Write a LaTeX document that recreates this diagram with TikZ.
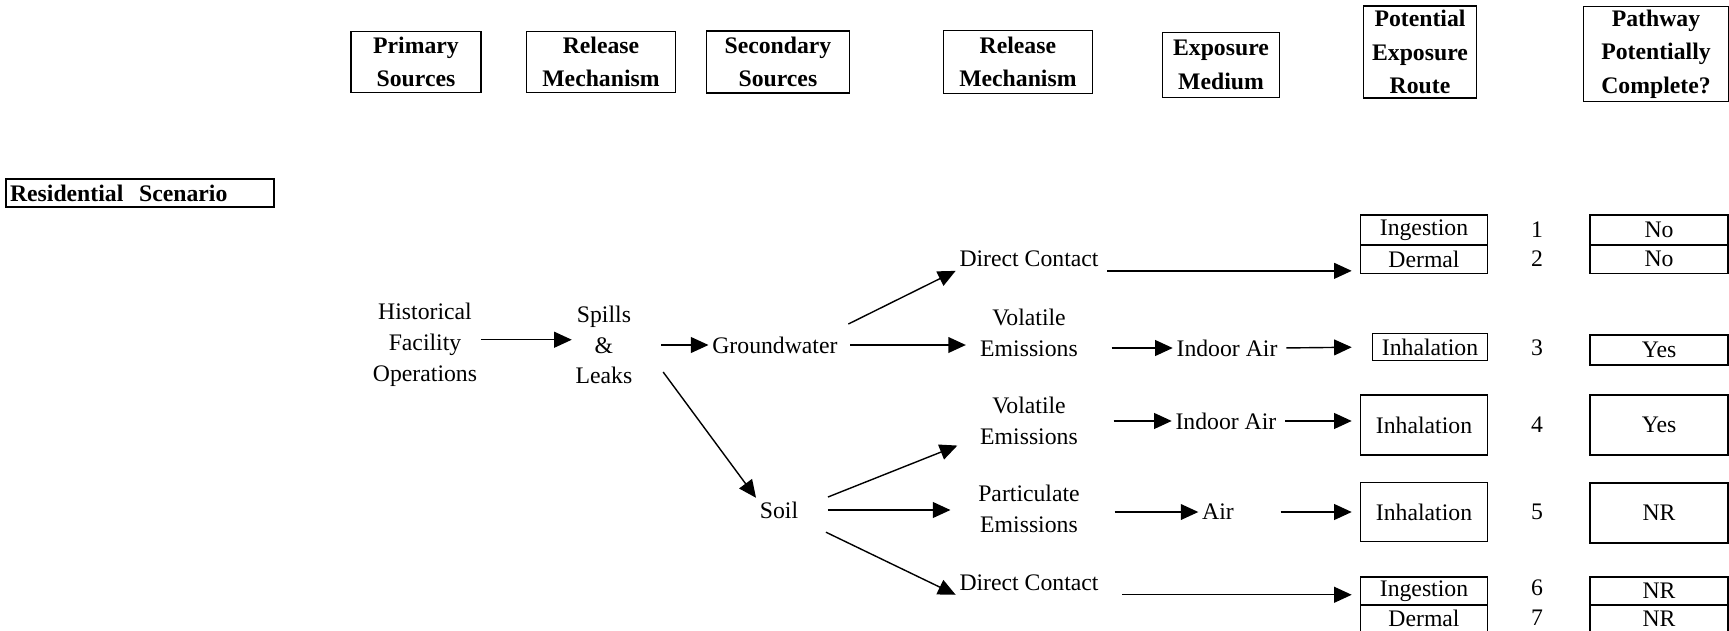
\documentclass[tikz,border=0pt]{standalone}
\usepackage{fontspec}
\setmainfont{Liberation Serif}
\usepackage{tikz}
\usetikzlibrary{arrows.meta,positioning}

\begin{document}
\begin{tikzpicture}[
    x=0.02cm, y=-0.02cm,
    node distance=3cm,
    hdr/.style={rectangle, draw=black, line width=0.9pt, align=center, inner sep=2pt, font=\bfseries\fontsize{13.5}{19}\selectfont},
    flow/.style={align=center, inner sep=2pt, font=\fontsize{13.5}{17.5}\selectfont},
    exproute/.style={rectangle, draw=black, line width=0.9pt, minimum width=2.54cm, inner sep=1pt, font=\fontsize{13.5}{17.5}\selectfont},
    answer/.style={rectangle, draw=black, line width=0.9pt, minimum width=2.76cm, inner sep=1pt, font=\fontsize{13.5}{17.5}\selectfont},
    pathno/.style={inner sep=1pt, font=\fontsize{13.5}{17.5}\selectfont},
    arrow/.style={line width=0.8pt, -{Triangle[length=10pt,width=9pt]}}
]
\useasboundingbox (0,0) rectangle (1729,630);
% Header row
\node[hdr, minimum width=2.6cm, minimum height=1.22cm] (prim) at (416,62) {Primary\\Sources};
\node[hdr, minimum width=2.98cm, minimum height=1.22cm, right of=prim, node distance=3.7cm] (rel1) {Release\\Mechanism};
\node[hdr, minimum width=2.86cm, minimum height=1.24cm, right of=rel1, node distance=3.54cm] (sec) {Secondary\\Sources};
\node[hdr, minimum width=2.98cm, minimum height=1.26cm, right of=sec, node distance=4.8cm] (rel2) {Release\\Mechanism};
\node[hdr, minimum width=2.34cm, minimum height=1.3cm] (expo) at (1221,65) {Exposure\\Medium};
\node[hdr, minimum width=2.26cm, minimum height=1.84cm] (perhdr) at (1420,52) {Potential\\Exposure\\Route};
\node[hdr, minimum width=2.9cm, minimum height=1.78cm] (compl) at (1656,54) {Pathway\\Potentially\\Complete?};
% Scenario label
\node[hdr, text width=5.2cm, align=left, inner xsep=0.08cm, inner ysep=2pt, minimum height=0.56cm] (scen) at (140,193) {Residential\ \ Scenario};
% Sources
\node[flow] (hist) at (425,345) {Historical\\Facility\\Operations};
\node[flow, right of=hist, node distance=3.58cm] (spills) {Spills\\\&\\Leaks};
\node[flow, right of=spills, node distance=3.42cm] (gw) {Groundwater};
\node[flow] (soil) at (779,510) {Soil};
% Release mechanisms
\node[flow] (dc1) at (1029,259) {Direct Contact};
\node[flow, below of=dc1, node distance=1.48cm] (ve1) {Volatile\\Emissions};
\node[flow, below of=ve1, node distance=1.76cm] (ve2) {Volatile\\Emissions};
\node[flow, below of=ve2, node distance=1.76cm] (pe) {Particulate\\Emissions};
\node[flow, below of=pe, node distance=1.48cm] (dc2) {Direct Contact};
% Exposure media
\node[flow] (air1) at (1227,348) {Indoor Air};
\node[flow, right of=ve2, node distance=3.94cm] (air2) {Indoor Air};
\node[flow] (air3) at (1218,512) {Air};
% Exposure routes
\node[exproute, minimum height=0.6cm] (ing1) at (1424,230) {Ingestion};
\node[exproute, minimum height=0.58cm, below of=ing1, node distance=0.58cm] (derm2) {Dermal};
\node[exproute, minimum width=2.3cm, minimum height=0.54cm] (inh3) at (1430,347) {Inhalation};
\node[exproute, minimum height=1.2cm] (inh4) at (1424,425) {Inhalation};
\node[exproute, minimum height=1.18cm] (inh5) at (1424,512) {Inhalation};
\node[exproute, minimum height=0.56cm] (ing6) at (1424,591) {Ingestion};
\node[exproute, minimum height=0.54cm, below of=ing6, node distance=0.55cm] (derm7) {Dermal};
% Pathway numbers
\node[pathno, right of=ing1, node distance=2.26cm] (n1) {1};
\node[pathno, right of=derm2, node distance=2.26cm] (n2) {2};
\node[pathno] (n3) at (1537,348) {3};
\node[pathno, right of=inh4, node distance=2.26cm] (n4) {4};
\node[pathno, right of=inh5, node distance=2.26cm] (n5) {5};
\node[pathno] (n6) at (1537,588) {6};
\node[pathno] (n7) at (1537,618) {7};
% Complete?
\node[answer, minimum height=0.6cm] (no1) at (1659,230) {No};
\node[answer, minimum height=0.58cm, below of=no1, node distance=0.58cm] (no2) {No};
\node[answer, minimum height=0.6cm] (yes3) at (1659,350) {Yes};
\node[answer, minimum height=1.2cm] (yes4) at (1659,425) {Yes};
\node[answer, minimum height=1.2cm] (nr5) at (1659,513) {NR};
\node[answer, minimum height=0.56cm] (nr6) at (1659,591) {NR};
\node[answer, minimum height=0.54cm, below of=nr6, node distance=0.55cm] (nr7) {NR};
% Arrows
\draw[arrow] ([yshift=3pt]hist.east) -- ([yshift=3pt]spills.west);
\draw[arrow, shorten <=0.5cm] (spills.east) -- (gw.west);
\draw[arrow] ([shift={(27,27)}]spills.east) -- (soil.north west);
\draw[arrow] ([shift={(7,-21)}]gw.east) -- (dc1.south west);
\draw[arrow, shorten <=0.18cm, shorten >=0.21cm] (gw.east) -- (gw.east -| ve1.west);
\draw[arrow, shorten <=0.1cm, shorten >=0.16cm] (dc1.south east) -- (dc1.south east -| derm2.west);
\draw[arrow, shorten <=0.6cm] (ve1.east |- air1.west) -- (air1.west);
\draw[arrow, shorten <=0.1cm, shorten >=0.4cm] (air1.east) -- (inh3.west);
\draw[arrow] ([shift={(26,-13)}]soil.east) -- ([shift={(-19,-3)}]ve2.south west);
\draw[arrow, shorten <=0.52cm, shorten >=0.48cm] (soil.east) -- (soil.east -| pe.west);
\draw[arrow] ([shift={(24,10)}]soil.south east) -- (dc2.south west);
\draw[arrow, shorten <=0.64cm] (ve2.east) -- (air2.west);
\draw[arrow, shorten <=0.1cm, shorten >=0.16cm] (air2.east) -- (air2.east -| inh4.west);
\draw[arrow, shorten <=0.62cm] (air3.west -| pe.east) -- (air3.west);
\draw[arrow, shorten <=0.86cm, shorten >=0.16cm] (air3.east) -- (inh5.west);
\draw[arrow, shorten <=0.4cm, shorten >=0.16cm] (dc2.south east) -- (dc2.south east -| derm7.west);
\end{tikzpicture}
\end{document}
